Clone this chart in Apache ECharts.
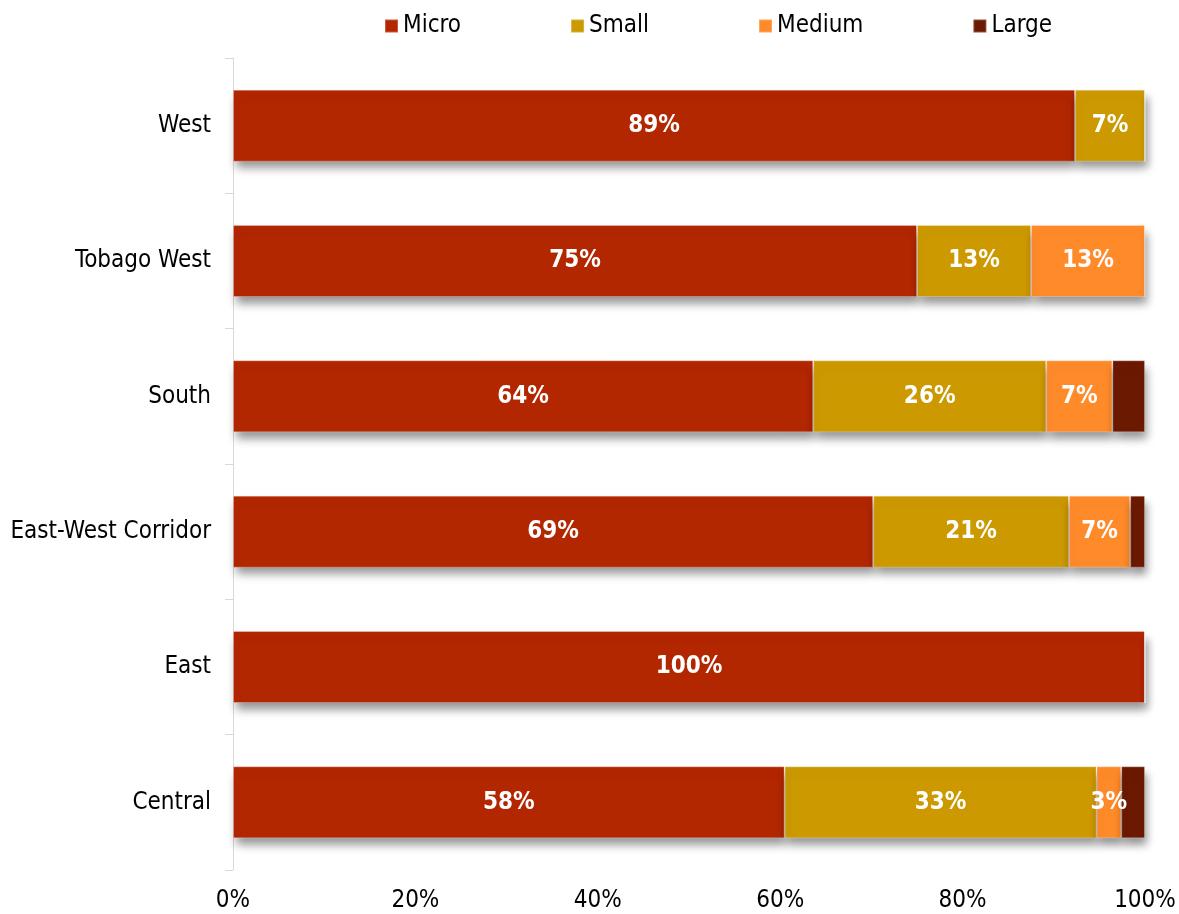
<!DOCTYPE html>
<html>
<head>
<meta charset="utf-8">
<title>Business size by region</title>
<script src="https://cdn.jsdelivr.net/npm/echarts@6/dist/echarts.min.js"></script>
<style>
  html, body { margin: 0; padding: 0; background: #ffffff; }
  #chart { width: 1179px; height: 914px; }
</style>
</head>
<body>
<div id="chart"></div>
<script>
// Regions, listed bottom to top as the category axis draws them
const regions = ['Central', 'East', 'East-West Corridor', 'South', 'Tobago West', 'West'];

// Share of businesses in each size class, percent per region
const micro  = [58,   100, 69,   64,   75,   89];
const small  = [32.8, 0,   21.1, 25.7, 12.5, 7.4];
const medium = [2.6,  0,   6.6,  7.3,  12.5, 0];
const large  = [2.5,  0,   1.6,  3.6,  0,    0];

const xTicks = ['0%', '20%', '40%', '60%', '80%', '100%'];

const sizeNames  = ['Micro', 'Small', 'Medium', 'Large'];
const sizeColors = ['#B22600', '#CC9900', '#FF8A2A', '#6B1900'];
const showLabel  = [true, true, true, false];

const FONT = "'DejaVu Sans Condensed', 'DejaVu Sans', sans-serif";
const FS = 24;

// Each bar is scaled to the full 100% width, as a 100% stacked chart
const totals = regions.map((_, i) => micro[i] + small[i] + medium[i] + large[i]);
const raw = [micro, small, medium, large];

const series = raw.map((vals, s) => ({
  name: sizeNames[s],
  type: 'bar',
  stack: 'share',
  barWidth: 72,
  data: vals.map((v, i) => ({ value: v / totals[i] * 100, raw: v })),
  itemStyle: {
    color: sizeColors[s],
    borderColor: 'rgba(255,255,255,0.25)',
    borderWidth: 1,
    shadowColor: 'rgba(0,0,0,0.42)',
    shadowBlur: 9,
    shadowOffsetX: 2,
    shadowOffsetY: 7
  },
  label: {
    show: showLabel[s],
    position: 'inside',
    color: '#ffffff',
    fontFamily: FONT,
    fontWeight: 'bold',
    fontSize: FS,
    formatter: p => p.data.raw > 0 ? Math.round(p.data.raw) + '%' : ''
  }
}));

const chart = echarts.init(document.getElementById('chart'), null, { renderer: 'canvas' });
chart.setOption({
  animation: false,
  backgroundColor: '#ffffff',
  textStyle: { fontFamily: FONT },
  legend: {
    data: sizeNames,
    left: 384,
    top: 14,
    padding: 0,
    itemWidth: 13,
    itemHeight: 13,
    itemGap: 109,
    icon: 'rect',
    textStyle: { fontFamily: FONT, fontSize: FS, color: '#000000' }
  },
  grid: { left: 233, right: 34, top: 58, bottom: 44, containLabel: false },
  xAxis: {
    type: 'value',
    min: 0,
    max: 100,
    interval: 20,
    axisLine: { show: false },
    axisTick: { show: false },
    splitLine: { show: false },
    axisLabel: {
      margin: 19,
      fontFamily: FONT,
      fontSize: FS,
      color: '#000000',
      formatter: v => xTicks[Math.round(v / 20)]
    }
  },
  yAxis: {
    type: 'category',
    data: regions,
    axisLine: { show: true, lineStyle: { color: '#d9d9d9', width: 1 } },
    axisTick: { show: true, length: 8, lineStyle: { color: '#d9d9d9' } },
    axisLabel: { margin: 22, fontFamily: FONT, fontSize: FS, color: '#000000', padding: [4, 0, 0, 0] }
  },
  series: series
});
</script>
</body>
</html>
